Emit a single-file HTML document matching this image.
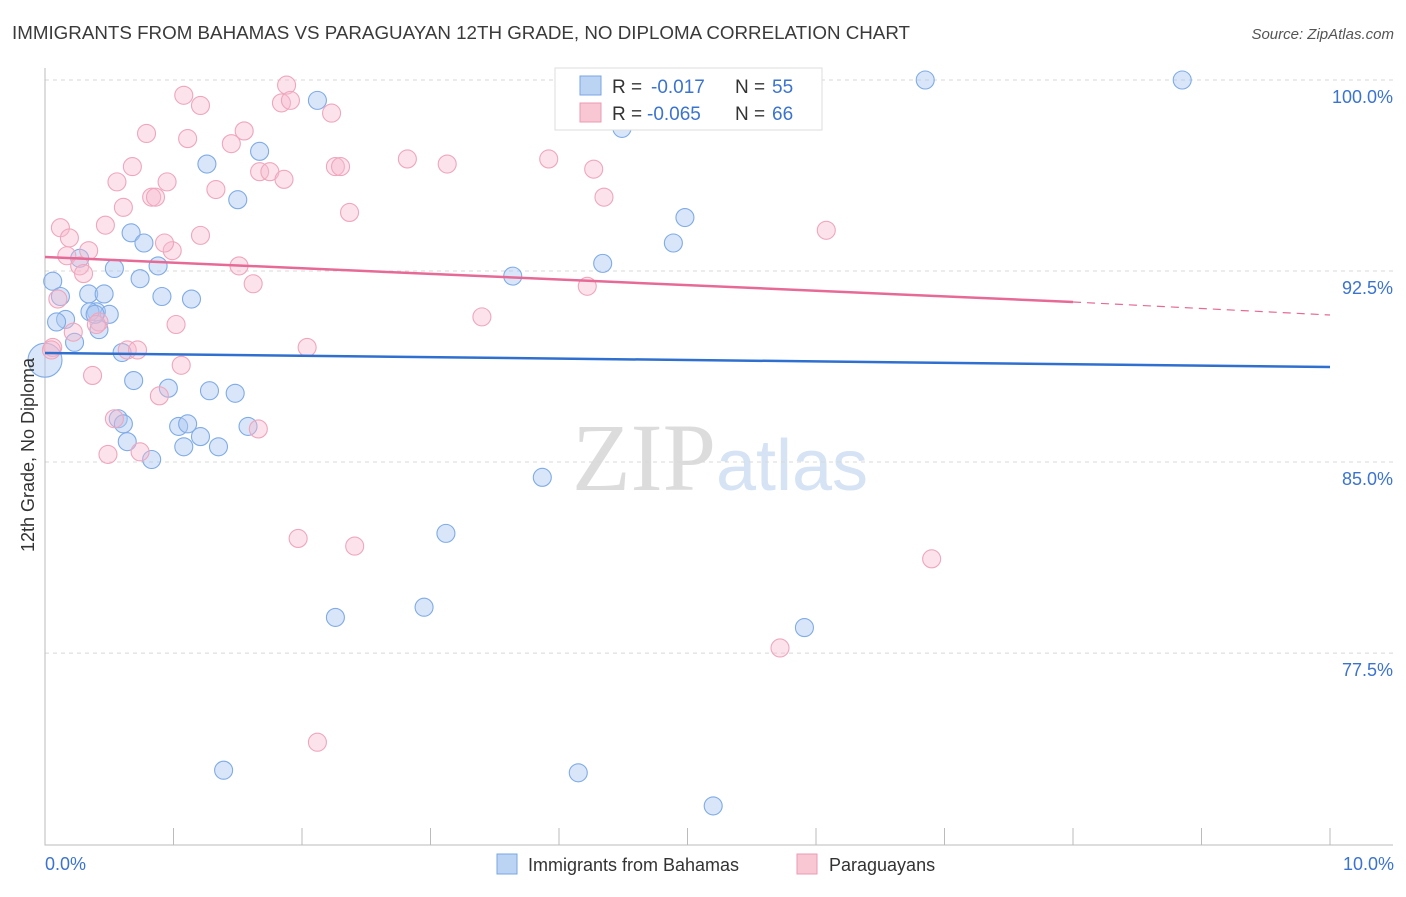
<!DOCTYPE html>
<html><head><meta charset="utf-8"><style>
body{margin:0;background:#fff;font-family:"Liberation Sans",sans-serif;}
</style></head><body>
<svg id="chart" width="1406" height="892" xmlns="http://www.w3.org/2000/svg" font-family="Liberation Sans, sans-serif">
<text x="12" y="39" font-size="18" textLength="898" lengthAdjust="spacingAndGlyphs" fill="#3a3a3a">IMMIGRANTS FROM BAHAMAS VS PARAGUAYAN 12TH GRADE, NO DIPLOMA CORRELATION CHART</text>
<text x="1394" y="39" font-size="15" fill="#555" text-anchor="end" font-style="italic">Source: ZipAtlas.com</text>
<text x="720" y="490" font-size="96" text-anchor="middle" fill="#e6e6e6"><tspan font-family="Liberation Serif, serif" fill="#dcdcdc">ZIP</tspan><tspan fill="#d5e3f5" font-size="72">atlas</tspan></text>
<g id="grid"></g>
<g id="axes"></g>
<g id="pts"></g>
<g id="lines"></g>
<text transform="translate(34,455) rotate(-90)" font-size="18" fill="#333" text-anchor="middle">12th Grade, No Diploma</text>
<text x="45" y="870" font-size="18" fill="#3b73d0">0.0%</text>
<text x="1394" y="870" font-size="18" fill="#3b73d0" text-anchor="end">10.0%</text>
<g>
<rect x="555" y="68" width="267" height="62" fill="#fff" stroke="#ddd"/>
<rect x="580" y="76" width="21" height="19" fill="#bcd4f4" stroke="#7aa5e3"/>
<rect x="580" y="103" width="21" height="19" fill="#f9c6d4" stroke="#ec9ab3"/>
<text x="612" y="93" font-size="19" fill="#333">R =</text>
<text x="651" y="93" font-size="19" fill="#3b73d0">-0.017</text>
<text x="735" y="93" font-size="19" fill="#333">N =</text>
<text x="772" y="93" font-size="19" fill="#3b73d0">55</text>
<text x="612" y="120" font-size="19" fill="#333">R =</text>
<text x="647" y="120" font-size="19" fill="#3b73d0">-0.065</text>
<text x="735" y="120" font-size="19" fill="#333">N =</text>
<text x="772" y="120" font-size="19" fill="#3b73d0">66</text>
</g>
<g>
<rect x="497" y="854" width="20" height="20" fill="#bcd4f4" stroke="#7aa5e3"/>
<text x="528" y="871" font-size="18" fill="#333">Immigrants from Bahamas</text>
<rect x="797" y="854" width="20" height="20" fill="#f9c6d4" stroke="#ec9ab3"/>
<text x="829" y="871" font-size="18" fill="#333">Paraguayans</text>
</g>
</svg>
<script>
const yTicks=[100,92.5,85,77.5];
const yTickLabels=["100.0%","92.5%","85.0%","77.5%"];
const xTicks=[1,2,3,4,5,6,7,8,9,10];
const bahamasX=[0.06,0.12,0.16,0.09,0.23,0.27,0.34,0.40,0.46,0.42,0.50,0.54,0.67,0.77,0.74,0.88,0.91,1.14,1.26,1.50,1.67,2.12,4.49,6.85,8.85,4.98,4.89,4.34,3.64,0.69,0.96,1.28,1.48,0.57,0.61,1.04,1.11,1.21,0.64,1.08,1.35,0.83,1.58,3.87,3.12,2.26,2.95,5.91,1.39,4.15,5.20,0.0,0.35,0.39,0.6];
const bahamasY=[92.1,91.5,90.6,90.5,89.7,93.0,91.6,90.9,91.6,90.2,90.8,92.6,94.0,93.6,92.2,92.7,91.5,91.4,96.7,95.3,97.2,99.2,98.1,100.0,100.0,94.6,93.6,92.8,92.3,88.2,87.9,87.8,87.7,86.7,86.5,86.4,86.5,86.0,85.8,85.6,85.6,85.1,86.4,84.4,82.2,78.9,79.3,78.5,72.9,72.8,71.5,89.0,90.9,90.8,89.3];
const paraX=[5.93,1.88,1.08,1.21,1.84,1.91,2.23,0.79,1.11,1.55,1.45,0.68,0.56,0.95,1.33,1.67,1.75,1.86,2.26,2.30,2.82,3.13,3.92,4.27,4.35,0.61,0.83,0.86,0.47,0.12,0.19,0.34,0.17,0.99,0.93,1.21,2.37,6.08,0.27,0.30,1.51,1.62,4.22,0.10,3.40,1.02,0.42,0.22,0.06,0.05,0.64,0.72,2.04,1.06,0.37,0.89,0.54,1.66,0.49,0.74,1.97,2.41,6.90,5.72,2.12,0.4];
const paraY=[100.0,99.8,99.4,99.0,99.1,99.2,98.7,97.9,97.7,98.0,97.5,96.6,96.0,96.0,95.7,96.4,96.4,96.1,96.6,96.6,96.9,96.7,96.9,96.5,95.4,95.0,95.4,95.4,94.3,94.2,93.8,93.3,93.1,93.3,93.6,93.9,94.8,94.1,92.7,92.4,92.7,92.0,91.9,91.4,90.7,90.4,90.5,90.1,89.5,89.4,89.4,89.4,89.5,88.8,88.4,87.6,86.7,86.3,85.3,85.4,82.0,81.7,81.2,77.7,74.0,90.4];
const X=v=>45+v*128.5, Y=v=>80+(100-v)*25.47;
const NS="http://www.w3.org/2000/svg";
function mk(t,a,p){const e=document.createElementNS(NS,t);for(const k in a)e.setAttribute(k,a[k]);p.appendChild(e);return e;}
const grid=document.getElementById('grid'),axes=document.getElementById('axes'),pts=document.getElementById('pts'),lines=document.getElementById('lines');
yTicks.forEach((t,i)=>{
 const l=mk('line',{x1:45,x2:1393,y1:Y(t),y2:Y(t),stroke:'#d8d8d8','stroke-dasharray':'4,4'},grid);
 
 
 const tx=mk('text',{x:1393,y:Y(t)+23,'font-size':18,fill:'#3b73d0','text-anchor':'end'},grid);
 tx.textContent=yTickLabels[i];
 
 
});
const ax=mk('path',{d:'M45 68V845H1393',stroke:'#bbb',fill:'none'},axes);


xTicks.forEach(t=>{
 const l=mk('line',{x1:X(t),x2:X(t),y1:828,y2:845,stroke:'#bbb'},axes);
 
 
});
bahamasX.forEach((x,i)=>{
 const big=(x===0);
 const c=mk('circle',{cx:X(x),cy:Y(bahamasY[i]),r:big?17:9,fill:'rgba(170,200,242,0.45)',stroke:'#7fabe6','stroke-width':1.1},pts);
 
 
});
paraX.forEach((x,i)=>{
 const c=mk('circle',{cx:X(x),cy:Y(paraY[i]),r:9,fill:'rgba(247,185,204,0.4)',stroke:'#efa6bd','stroke-width':1.1},pts);
 
 
});
const bl=mk('line',{x1:45,y1:353,x2:1330,y2:367,stroke:'#2f6fd0','stroke-width':2.5},lines);


const pl=mk('line',{x1:45,y1:257,x2:1073,y2:302,stroke:'#e76a96','stroke-width':2.5},lines);


const pd=mk('line',{x1:1073,y1:302,x2:1330,y2:315,stroke:'#e76a96','stroke-width':1.2,'stroke-dasharray':'8,6'},lines);


</script>
</body></html>
